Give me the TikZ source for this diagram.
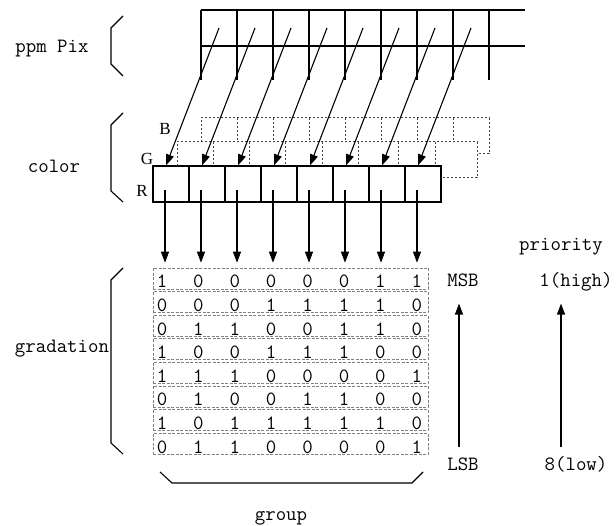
\documentclass[tikz,border=0pt]{standalone}
\usepackage{fontspec}
\newfontfamily\rgbfont{Liberation Serif}
\usepackage{tikz}
\usetikzlibrary{arrows.meta}

\begin{document}
\begin{tikzpicture}[x=1pt, y=-1pt, line width=1.1pt,
    font=\ttfamily\fontsize{20.3}{22}\selectfont,
    lbl/.style={inner sep=0pt, text height=12pt, text depth=0pt, anchor=base},
    rgb/.style={inner sep=0pt, anchor=base, font=\rgbfont\fontsize{17}{19}\selectfont},
    arr/.style={-{Triangle[length=11pt, width=8pt]}},
    hid/.style={draw=black!75, line width=1pt, dash pattern=on 2pt off 2pt},
    rbox/.style={draw, minimum width=36pt, minimum height=36pt, inner sep=0pt},
    bitrow/.style={draw=gray, line width=0.6pt, dash pattern=on 3pt off 1.5pt,
      minimum width=275pt, minimum height=21pt, inner sep=0pt},
    bit/.style={inner sep=0pt, anchor=base}]
    \useasboundingbox (0,0) rectangle (616,526);

    % ppm pixel grid
    \draw (201,10) -- (525,10);
    \draw (201,46) -- (525,46);
    \foreach \i in {0,...,8}
      \draw ({201+36*\i},10) -- ({201+36*\i},80);

    % Brackets
    \draw (123,16) -- (111,28) -- (111,64) -- (123,76);
    \draw (123,113) -- (111,125) -- (111,191) -- (123,202);
    \draw (123,268) -- (111,280) -- (111,443) -- (123,454);
    \draw (160,472) -- (172,483) -- (412,483) -- (423,472);

    % Side labels
    \node[lbl] (ppm) at (52,53) {ppm Pix};
    \node[lbl] (col) at (54,173) {color};
    \node[lbl] (grad) at (62,353) {gradation};
    \node[lbl] (grp) at (281,520) {group};

    % B plane (hidden parts left out)
    \draw[hid] (201,142) -- (201,118) -- (489,118) -- (489,154) -- (477,154);
    \foreach \x in {237,273,...,453}
      \draw[hid] (\x,118) -- (\x,142);

    % G plane
    \draw[hid] (177,166) -- (177,142) -- (477,142) -- (477,178) -- (442,178);
    \foreach \x in {213,249,285,322,358,398,435}
      \draw[hid] (\x,142) -- (\x,166);

    \node[rgb] (lB) at (165,135) {B};
    \node[rgb] (lG) at (147,165) {G};
    \node[rgb] (lR) at (142,197) {R};

    % R plane
    \foreach \i in {1,...,8}
      \node[rbox] (r\i) at ({135+36*\i},184) {};

    % Pixels into the planes
    \foreach \i in {1,...,8} {
      \coordinate (p\i) at ({183+36*\i},28);
      \draw[arr] (p\i) -- ([xshift=-5pt]r\i.north);
    }

    % Gradation rows
    \foreach \r in {1,...,8}
      \node[bitrow] (row\r) at (290.5,{278.5+23.6*(\r-1)}) {};

    \foreach \bits [count=\r] in {{1,0,0,0,0,0,1,1},{0,0,0,1,1,1,1,0},
        {0,1,1,0,0,1,1,0},{1,0,0,1,1,1,0,0},{1,1,1,0,0,0,0,1},
        {0,1,0,0,1,1,0,0},{1,0,1,1,1,1,1,0},{0,1,1,0,0,0,0,1}}
      \foreach \b [count=\c] in \bits
        \node[bit] (b\r\c) at ({162+36.4*(\c-1)},{288+23.6*(\r-1)}) {\b};

    % R plane down to the rows
    \foreach \i in {1,...,8}
      \draw[arr, shorten >=5pt] ([xshift=-6pt,yshift=-6pt]r\i.center)
        -- ([xshift=-6pt]r\i.center |- row1.north);

    % Bit order and priority
    \node[lbl] (prio) at (561,251) {priority};
    \node[lbl] (msb) at (463,287) {MSB};
    \node[lbl] (lsb) at (463,471) {LSB};
    \node[lbl] (high) at (576,287) {1(high)};
    \node[lbl] (low) at (576,471) {8(low)};
    \draw[arr, shorten <=11pt, shorten >=16pt] ([xshift=-4pt]lsb.north) -- ([xshift=-4pt]msb.south);
    \draw[arr, shorten <=11pt, shorten >=16pt] (low.north -| prio) -- (high.south -| prio);
  \end{tikzpicture}
\end{document}
